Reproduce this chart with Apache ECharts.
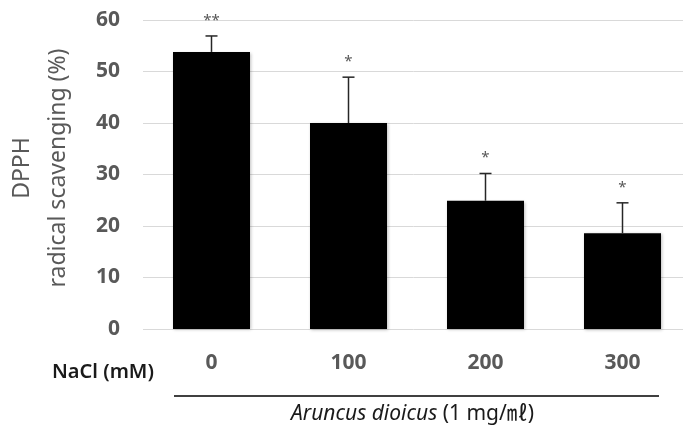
<!DOCTYPE html>
<html>
<head>
<meta charset="utf-8">
<script src="https://cdn.jsdelivr.net/npm/echarts@6/dist/echarts.min.js"></script>
<style>
html,body{margin:0;padding:0;background:#fff;}
#chart{width:683px;height:429px;}
</style>
</head>
<body>
<div id="chart"></div>
<script>
const categories = ['0', '100', '200', '300'];
const means = [53.8, 40.0, 24.9, 18.6];
const upperErr = [56.9, 48.9, 30.2, 24.5];
const signif = ['**', '*', '*', '*'];
const yTicks = [0, 10, 20, 30, 40, 50, 60];

const chart = echarts.init(document.getElementById('chart'));
const FONT = '"Noto Sans", "Noto Sans CJK KR", sans-serif';

const errData = categories.map((c, i) => [i, means[i], upperErr[i], signif[i]]);

chart.setOption({
  animation: false,
  backgroundColor: '#fff',
  grid: { left: 143, top: 20, width: 548, height: 309, containLabel: false, outerBoundsMode: 'none' },
  xAxis: {
    type: 'category',
    data: categories,
    axisLine: { show: false },
    axisTick: { show: false },
    axisLabel: { color: '#595959', fontSize: 21, fontWeight: 'bold', fontFamily: FONT, margin: 24 }
  },
  yAxis: {
    type: 'value',
    min: yTicks[0], max: yTicks[yTicks.length - 1], interval: 10,
    axisLine: { show: false },
    axisTick: { show: false },
    splitLine: { lineStyle: { color: '#d9d9d9', width: 1 } },
    axisLabel: { color: '#595959', fontSize: 21, fontWeight: 'bold', fontFamily: FONT, margin: 23 }
  },
  series: [
    {
      type: 'bar',
      data: means,
      barWidth: 77,
      itemStyle: { color: '#000', shadowColor: 'rgba(0,0,0,0.25)', shadowBlur: 3, shadowOffsetX: 1, shadowOffsetY: 1 },
      z: 2
    },
    {
      type: 'custom',
      data: errData,
      z: 3,
      renderItem: function (params, api) {
        const idx = api.value(0);
        const p0 = api.coord([idx, api.value(1)]);
        const p1 = api.coord([idx, api.value(2)]);
        const sig = errData[params.dataIndex][3];
        const st = { stroke: '#262626', lineWidth: 1.5 };
        return {
          type: 'group',
          children: [
            { type: 'line', shape: { x1: p0[0], y1: p0[1], x2: p1[0], y2: p1[1] }, style: st },
            { type: 'line', shape: { x1: p1[0] - 6, y1: p1[1], x2: p1[0] + 6, y2: p1[1] }, style: st },
            { type: 'text', x: p1[0], y: p1[1] - 8,
              style: { text: sig, fill: '#595959', font: '15px ' + FONT, align: 'center', verticalAlign: 'bottom' } }
          ]
        };
      }
    }
  ],
  graphic: [
    { type: 'text', x: 40, y: 168, rotation: Math.PI / 2,
      style: { text: 'DPPH\nradical scavenging (%)', fill: '#595959', fontSize: 23, fontFamily: FONT,
               lineHeight: 36, align: 'center', verticalAlign: 'middle' } },
    { type: 'text', left: 52, top: 362,
      style: { text: 'NaCl (mM)', fill: '#1a1a1a', font: '600 20px ' + FONT } },
    { type: 'line', shape: { x1: 174, y1: 396, x2: 659, y2: 396 }, style: { stroke: '#000', lineWidth: 1.5 } },
    { type: 'text', left: 291, top: 404,
      style: {
        rich: {
          it: { fontStyle: 'italic', fontSize: 21, fontFamily: FONT, fill: '#1a1a1a' },
          n: { fontSize: 21, fontFamily: FONT, fill: '#1a1a1a' }
        },
        text: '{it|Aruncus dioicus}{n| (1 mg/㎖)}'
      } }
  ]
});
</script>
</body>
</html>
